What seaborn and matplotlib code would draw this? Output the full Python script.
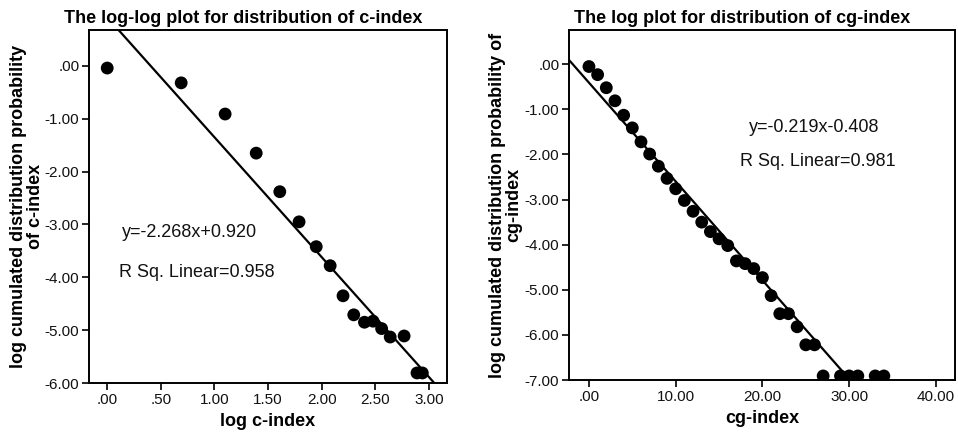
import numpy as np
import pandas as pd
import matplotlib
matplotlib.use("Agg")
import matplotlib.pyplot as plt
from matplotlib.ticker import FuncFormatter, MultipleLocator
import seaborn as sns

# ---- c-index: log-log cumulated distribution ----
log_c_index = [0.00, 0.69, 1.10, 1.39, 1.61, 1.79, 1.95, 2.08, 2.20, 2.30,
               2.40, 2.48, 2.56, 2.64, 2.77, 2.89, 2.94]
log_c_prob = [-0.04, -0.32, -0.91, -1.65, -2.38, -2.95, -3.42, -3.78, -4.35, -4.71,
              -4.85, -4.83, -4.97, -5.13, -5.11, -5.81, -5.81]
c_slope, c_intercept, c_r2 = -2.268, 0.920, 0.958

# ---- cg-index: log cumulated distribution ----
cg_index = [0, 1, 2, 3, 4, 5, 6, 7, 8, 9, 10, 11, 12, 13, 14, 15, 16, 17, 18, 19,
            20, 21, 22, 23, 24, 25, 26, 27, 29, 30, 31, 33, 34]
log_cg_prob = [-0.05, -0.23, -0.52, -0.81, -1.13, -1.41, -1.72, -1.99, -2.26, -2.53,
               -2.76, -3.02, -3.26, -3.50, -3.71, -3.87, -4.02, -4.36, -4.42, -4.53,
               -4.73, -5.13, -5.53, -5.53, -5.82, -6.22, -6.22, -6.91, -6.91, -6.91,
               -6.91, -6.91, -6.91]
cg_slope, cg_intercept, cg_r2 = -0.219, -0.408, 0.981

sns.set_style("ticks")
plt.rcParams["font.family"] = ["Liberation Sans", "DejaVu Sans"]
plt.rcParams["text.color"] = "black"
plt.rcParams["axes.labelcolor"] = "black"
plt.rcParams["xtick.color"] = "black"
plt.rcParams["ytick.color"] = "black"

W, H = 958, 436
fig = plt.figure(figsize=(W / 100, H / 100), dpi=100)


def px_axes(l, t, r, b):
    return fig.add_axes([l / W, 1 - b / H, (r - l) / W, (b - t) / H])


def spss_fmt(v, _pos):
    s = f"{v:.2f}"
    if s.startswith("0."):
        s = s[1:]
    elif s.startswith("-0."):
        s = "-" + s[2:]
    if s == "-.00":
        s = ".00"
    return s


def style_axes(ax):
    for sp in ax.spines.values():
        sp.set_visible(True)
        sp.set_linewidth(1.4)
        sp.set_color("black")
    ax.tick_params(direction="out", length=5, width=1.2, color="black",
                   labelsize=11, pad=2, labelcolor="#111111")
    ax.xaxis.set_major_formatter(FuncFormatter(spss_fmt))
    ax.yaxis.set_major_formatter(FuncFormatter(spss_fmt))


def draw_panel(ax, x, y, slope, intercept, r2, xlim, ylim, xstep,
               title, title_cx, xlabel, ylabel, ylab_x, eq_pos, r2_pos):
    df = pd.DataFrame({"x": x, "y": y})
    sns.scatterplot(data=df, x="x", y="y", ax=ax, color="black", s=85,
                    edgecolor="none", zorder=3)
    xs = np.array(xlim)
    sns.lineplot(x=xs, y=slope * xs + intercept, ax=ax, color="black",
                 linewidth=1.6, zorder=2)
    ax.set_xlim(*xlim)
    ax.set_ylim(*ylim)
    ax.xaxis.set_major_locator(MultipleLocator(xstep))
    ax.yaxis.set_major_locator(MultipleLocator(1.0))
    style_axes(ax)
    ax.set_xlabel(xlabel, fontsize=13, fontweight="bold")
    ax.xaxis.set_label_coords(0.5, -0.085)
    ax.set_ylabel(ylabel, fontsize=13, fontweight="bold", linespacing=1.0)
    ax.yaxis.set_label_coords(ylab_x, 0.5)
    fig.text(title_cx / W, 1 - 23 / H, title, ha="center", va="baseline",
             fontsize=13, fontweight="bold")
    sign = "+" if intercept >= 0 else "-"
    ax.text(*eq_pos, f"y={slope:.3f}x{sign}{abs(intercept):.3f}",
            transform=ax.transAxes, ha="center", va="center", fontsize=13,
            color="#111111")
    ax.text(*r2_pos, f"R Sq. Linear={r2:.3f}", transform=ax.transAxes,
            ha="center", va="center", fontsize=13, color="#111111")


ax1 = px_axes(89, 30, 447, 383)
draw_panel(ax1, log_c_index, log_c_prob, c_slope, c_intercept, c_r2,
           (-0.17, 3.17), (-6.0, 0.68), 0.5,
           "The log-log plot for distribution of c-index", 243.5,
           "log c-index",
           "log cumulated distribution probability\nof c-index", -0.125,
           (0.282, 0.425), (0.302, 0.314))

ax2 = px_axes(569, 30, 955, 380)
draw_panel(ax2, cg_index, log_cg_prob, cg_slope, cg_intercept, cg_r2,
           (-2.3, 42.2), (-7.0, 0.76), 10,
           "The log plot for distribution of cg-index", 742.5,
           "cg-index",
           "log cumulated distribution probability of\ncg-index", -0.12,
           (0.636, 0.72), (0.645, 0.623))

fig.savefig("out.png", dpi=100)
